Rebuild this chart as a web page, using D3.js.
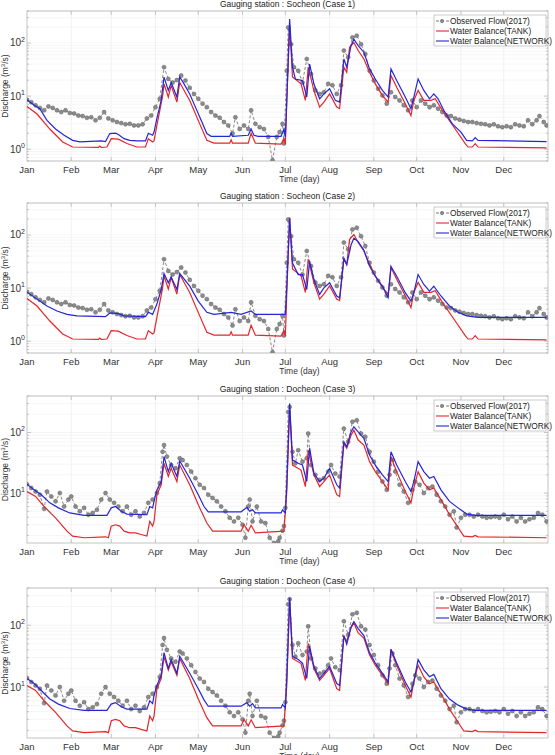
<!DOCTYPE html>
<html>
<head>
<meta charset="utf-8">
<script src="https://cdn.jsdelivr.net/npm/d3@7"></script>
<style>
  body { margin: 0; background: #fff; }
  svg { display: block; font-family: "Liberation Sans", Arial, sans-serif; }
</style>
</head>
<body>
<div id="chart"></div>
<script>
// month axis
const monthStarts = [0, 31, 59, 90, 120, 151, 181, 212, 243, 273, 304, 334];
const monthLabels = ["Jan", "Feb", "Mar", "Apr", "May", "Jun", "Jul", "Aug", "Sep", "Oct", "Nov", "Dec"];

// observed flow (day of year, m3/s)
const obsSocheon = [[0,8.5],[3,7.7],[6,6.7],[9,6.0],[12,5.4],[15,6.4],[18,6.0],[21,5.4],[24,5.0],[27,5.4],[30,4.8],[33,4.7],[36,4.3],[39,4.2],[42,3.9],[45,4.0],[48,3.5],[51,3.9],[54,5.0],[57,3.8],[60,3.5],[63,3.25],[66,3.1],[69,2.95],[72,3.0],[75,2.8],[78,2.8],[81,2.95],[84,3.8],[87,4.3],[90,6.2],[93,8.9],[96,35],[99,21],[102,18],[105,20],[108,24.5],[111,19.6],[114,14.3],[117,11],[120,8.9],[123,7.2],[126,6.2],[129,5.0],[132,4.3],[135,3.9],[138,3.25],[141,2.8],[144,1.97],[146,4.0],[149,2.4],[152,2.8],[155,2.4],[157,5.4],[160,3.0],[163,2.6],[166,2.4],[169,1.7],[172,0.62],[175,1.7],[177,2.1],[179,3.0],[180,1.28],[182,30],[183,196],[185,95],[187,35],[190,30],[193,18],[196,50],[199,26],[202,12.8],[205,11],[208,11.8],[211,17],[214,16],[217,11],[220,16],[222,72],[225,54],[228,127],[231,137],[234,95],[237,62],[240,30],[243,19.6],[246,13.7],[249,10.3],[252,7.2],[255,11.8],[258,9.6],[261,8.3],[264,6.7],[267,5.4],[270,8.3],[273,6.2],[276,8.3],[279,7.2],[282,6.2],[285,6.7],[288,5.8],[291,5.0],[294,4.3],[297,4.2],[300,3.8],[303,3.6],[306,3.4],[309,3.25],[312,3.25],[315,3.1],[318,3.0],[321,2.95],[324,2.8],[327,2.95],[330,2.7],[333,2.6],[336,2.7],[339,2.6],[342,2.95],[345,2.8],[348,2.7],[351,3.5],[354,2.95],[357,3.5],[359,4.2],[362,3.25],[364,2.8]];

const obsDocheon = [[0,14],[3,12.1],[6,10.6],[9,9.4],[12,5.5],[14,10.6],[17,8.8],[20,7.3],[23,10],[26,6.0],[29,7.8],[31,8.8],[34,6.0],[37,5.0],[40,5.7],[43,4.4],[46,4.7],[49,5.3],[52,7.8],[55,10],[58,7.8],[61,6.9],[64,6.0],[67,5.0],[70,6.0],[73,4.4],[76,5.0],[79,4.1],[82,4.7],[85,6.9],[88,7.8],[91,10],[93,14.6],[95,48],[96,62],[98,40],[101,29],[104,25.7],[107,37.5],[109,35],[112,29],[115,22.6],[118,17.6],[121,13.7],[124,12.1],[127,9.4],[130,8.3],[133,7.3],[136,6.0],[139,5.0],[142,3.9],[145,3.4],[148,3.9],[151,3.0],[153,1.83],[155,6.0],[156,7.8],[158,3.4],[161,6.0],[164,3.4],[167,3.2],[170,1.83],[173,1.5],[176,1.6],[177,1.83],[179,2.4],[180,2.85],[181,5.7],[183,218],[184,264],[186,48],[188,31],[190,51],[193,33],[196,37.5],[197,96],[199,29],[202,20],[205,16.5],[208,17.6],[211,22.6],[213,29],[216,21],[219,18.8],[222,116],[225,70],[228,150],[231,159],[234,96],[237,85],[240,48],[243,33],[246,22.6],[249,15.5],[252,11.3],[254,20],[256,35],[258,22.6],[261,13.7],[264,10.6],[267,6.9],[270,11.3],[272,15.5],[275,13.7],[278,10],[281,12.1],[284,12.8],[287,9.4],[290,7.3],[293,6.0],[296,4.4],[299,5.0],[301,2.7],[304,3.9],[307,4.4],[310,4.4],[313,4.1],[316,4.4],[319,4.1],[322,3.9],[325,4.0],[328,4.1],[331,3.9],[334,4.4],[337,3.7],[340,4.1],[343,3.4],[346,3.9],[349,3.4],[352,3.7],[355,3.9],[358,4.7],[361,4.4],[364,3.4]];

// Water Balance (TANK)
const tankSocheon = [[0,6.4],[7,4.6],[16,2.4],[25,1.37],[32,1.1],[50,1.08],[51,1.15],[52,1.08],[56,1.1],[59,1.58],[64,1.55],[70,1.28],[77,1.1],[83,1.1],[85,1.58],[88,1.37],[89,1.45],[91,2.8],[95,10],[96,17],[99,9.6],[101,15.8],[105,7.7],[107,18],[114,8.3],[121,3.0],[126,1.47],[131,1.3],[142,1.3],[143,1.5],[144,1.3],[155,1.3],[157,2.0],[160,1.3],[178,1.25],[180,1.6],[181,1.25],[182,8],[184,213],[186,23],[192,17],[195,8.3],[197,35],[201,12.7],[205,6.2],[208,7.7],[212,11],[217,6.2],[219,5.8],[222,35],[224,28],[226,83],[229,102],[232,72],[236,50],[240,28],[244,17],[249,10.3],[253,7.7],[255,24.5],[259,14.7],[265,7.2],[269,4.3],[271,8.3],[274,12.8],[278,8.3],[283,8.3],[286,8.9],[291,5.4],[300,2.4],[307,1.27],[309,1.1],[312,1.1],[314,1.27],[316,1.1],[364,1.06]];

const tankDocheon = [[0,10.6],[6,8.8],[12,6.0],[20,3.9],[28,2.35],[32,1.95],[40,1.83],[55,1.9],[57,1.83],[59,2.85],[62,3.0],[65,2.85],[68,2.35],[72,2.2],[76,2.2],[80,2.07],[84,1.95],[86,3.4],[88,2.85],[89,3.4],[91,9.4],[94,13.7],[96,31],[99,18.8],[101,25.7],[105,15.5],[107,29],[114,13.7],[120,6.4],[126,3.2],[130,2.35],[150,2.35],[152,3.0],[155,2.35],[157,2.95],[160,2.2],[180,2.35],[182,10.6],[184,264],[186,29],[192,24],[195,12.8],[197,51],[201,20],[205,12.8],[208,15.5],[212,20],[217,9.4],[219,8.8],[222,66],[224,55],[227,90],[229,109],[232,75],[236,62],[240,33],[244,22.6],[249,15.5],[253,11.3],[255,40],[259,22.6],[265,10.6],[269,6.9],[271,12.1],[274,22.6],[278,14.6],[282,11.3],[285,12.1],[290,7.8],[296,4.4],[302,2.7],[306,1.95],[312,1.9],[314,2.0],[316,1.9],[364,1.83]];

// Water Balance (NETWORK), one per case
const networkCase1 = [[0,8.5],[5,6.7],[9,5.8],[14,3.5],[20,2.4],[26,1.83],[32,1.47],[37,1.37],[52,1.43],[55,1.39],[58,1.97],[62,2.0],[64,1.9],[68,1.58],[72,1.47],[77,1.43],[83,1.43],[85,2.0],[88,1.83],[89,2.1],[91,3.8],[94,8.3],[96,22.7],[99,12.8],[101,18],[105,9.6],[107,23],[110,17],[114,11],[118,6.2],[122,3.5],[126,1.97],[129,1.75],[142,1.75],[143,2.0],[144,1.75],[155,1.83],[157,2.4],[159,1.83],[162,1.75],[178,1.75],[180,2.4],[181,1.7],[182,8.3],[184,282],[186,35],[188,21],[193,19.6],[196,9.6],[198,40],[201,17],[205,8.9],[208,11],[212,13.7],[216,8.3],[219,7.7],[222,50],[224,35],[227,89],[229,118],[232,89],[236,67],[240,32.5],[244,21],[249,12.8],[253,9.6],[255,32.5],[259,19.6],[265,9.6],[269,5.8],[271,9.6],[274,21],[278,12.8],[282,8.9],[285,11],[288,8.9],[292,5.4],[298,3.0],[304,2.1],[308,1.47],[312,1.43],[314,1.65],[316,1.47],[364,1.39]];

const networkCase2 = [[0,8.4],[7,6.2],[14,4.6],[21,3.7],[28,3.2],[35,3.0],[55,2.9],[58,3.4],[64,3.3],[68,3.0],[83,2.9],[85,3.5],[88,3.2],[91,5.0],[94,9.4],[96,18.8],[99,12.6],[101,16.2],[105,9.4],[107,18.8],[114,10.9],[120,5.7],[126,3.5],[131,3.2],[143,3.5],[150,3.2],[157,3.7],[160,3.2],[181,3.2],[182,10.9],[184,204],[186,29.6],[190,18],[193,18],[196,9.4],[198,32],[201,14.5],[205,7.6],[208,10.1],[212,12.6],[217,7.1],[219,6.6],[222,36.7],[224,27.6],[227,65],[229,87],[232,75],[236,52],[240,25.7],[244,16.7],[249,10.9],[253,6.6],[255,25.7],[259,16.7],[265,8.2],[269,5.7],[271,8.2],[274,18],[278,11.7],[282,8.8],[285,10.9],[290,7.1],[296,4.6],[302,3.5],[308,3.0],[316,2.8],[340,2.8],[364,2.8]];

const networkCase3 = [[0,14],[5,11.3],[10,9.4],[16,6.9],[22,5.7],[30,4.7],[40,4.3],[56,4.3],[59,5.7],[62,6.0],[66,5.0],[70,4.5],[84,4.4],[86,6.0],[88,5.7],[89,7.3],[91,11.3],[94,15.5],[96,40],[99,22.6],[101,31],[105,18.8],[107,34],[114,17.6],[120,9.4],[124,6.0],[127,4.9],[150,4.9],[154,5.8],[156,5.0],[158,5.3],[160,4.7],[178,4.7],[179,5.3],[181,4.7],[182,13.7],[184,300],[186,35],[190,31],[193,29],[196,15.5],[198,55],[201,21],[205,15.5],[208,17.6],[212,25.7],[217,13.7],[219,12.1],[222,70],[224,58],[227,102],[229,124],[232,102],[236,80],[240,42],[244,29],[249,20],[253,15.5],[255,48],[259,29],[265,15.5],[269,10.6],[271,15.5],[274,33],[278,22.6],[282,17.6],[285,18.8],[290,11.3],[296,7.3],[302,5.7],[308,4.5],[314,4.3],[364,4.3]];

const networkCase4 = [[0,13.8],[5,11.4],[10,8.8],[16,6.4],[22,5.3],[30,4.5],[40,4.2],[56,4.2],[59,5.3],[62,5.6],[66,4.8],[70,4.4],[84,4.4],[86,6.0],[88,5.4],[89,7.3],[91,10.6],[94,15.6],[96,36],[99,20],[101,28],[105,16.7],[107,31.6],[114,16.7],[120,9.4],[124,6.2],[127,4.9],[150,4.9],[154,5.6],[156,4.9],[158,5.4],[160,4.6],[178,4.6],[179,5.2],[181,4.6],[182,14.7],[184,278],[186,31.6],[190,27.8],[193,24.5],[196,13.8],[198,46],[201,21.5],[205,13.8],[208,16.7],[212,21.5],[217,11.4],[219,10.6],[222,68],[224,49],[227,94],[229,114],[232,88],[236,68],[240,36],[244,24.5],[249,16.7],[253,12.1],[255,41],[259,24.5],[265,12.1],[269,8.3],[271,12.1],[274,27.8],[278,19],[282,14.7],[285,16],[290,9.4],[296,6.4],[302,5.1],[308,4.4],[314,4.2],[364,4.2]];

const legendLabels = ["Observed Flow(2017)", "Water Balance(TANK)", "Water Balance(NETWORK)"];

const width = 555;
const height = 755;
const red = "#e3262b";
const blue = "#2626d4";
const gray = "#7a7a7a";

const svg = d3.select("#chart")
  .append("svg")
  .attr("width", width)
  .attr("height", height);

const x = d3.scaleLinear().domain([0, 365]).range([27, 548]);

const panels = [
  { title: "Gauging station : Socheon (Case 1)", top: 11, bottom: 161, dom: [0.6, 400], obs: obsSocheon, tank: tankSocheon, net: networkCase1 },
  { title: "Gauging station : Socheon (Case 2)", top: 203, bottom: 353, dom: [0.6, 400], obs: obsSocheon, tank: tankSocheon, net: networkCase2 },
  { title: "Gauging station : Docheon (Case 3)", top: 396, bottom: 543, dom: [1.5, 400], obs: obsDocheon, tank: tankDocheon, net: networkCase3 },
  { title: "Gauging station : Docheon (Case 4)", top: 588, bottom: 738, dom: [1.5, 400], obs: obsDocheon, tank: tankDocheon, net: networkCase4 }
];

panels.forEach((p, i) => {
  const g = svg.append("g");
  const y = d3.scaleLog().domain(p.dom).range([p.bottom, p.top]);
  const x0 = x.range()[0], x1 = x.range()[1];

  // minor / major values inside the domain
  const minor = [];
  for (let e = -1; e <= 2; e++) {
    for (let k = 1; k <= 9; k++) {
      const v = k * Math.pow(10, e);
      if (v >= p.dom[0] && v <= p.dom[1]) minor.push(v);
    }
  }
  const major = minor.filter(v => Math.abs(Math.log10(v) - Math.round(Math.log10(v))) < 1e-9);

  // faint grid
  g.selectAll(".vg").data(monthStarts.slice(1)).join("line")
    .attr("x1", d => x(d)).attr("x2", d => x(d))
    .attr("y1", p.top).attr("y2", p.bottom)
    .attr("stroke", "#eeeeee").attr("stroke-width", 0.8);
  g.selectAll(".hg").data(minor).join("line")
    .attr("x1", x0).attr("x2", x1)
    .attr("y1", d => y(d)).attr("y2", d => y(d))
    .attr("stroke", "#f3f3f3").attr("stroke-width", 0.8);

  // tick marks (inside)
  g.selectAll(".tk").data(minor).join("line")
    .attr("x1", x0).attr("x2", d => x0 + (major.includes(d) ? 4 : 2))
    .attr("y1", d => y(d)).attr("y2", d => y(d))
    .attr("stroke", "#b0b0b0").attr("stroke-width", 0.7);
  g.selectAll(".tkr").data(minor).join("line")
    .attr("x1", x1).attr("x2", d => x1 - (major.includes(d) ? 4 : 2))
    .attr("y1", d => y(d)).attr("y2", d => y(d))
    .attr("stroke", "#b0b0b0").attr("stroke-width", 0.7);
  g.selectAll(".tkx").data(monthStarts.slice(1)).join("line")
    .attr("x1", d => x(d)).attr("x2", d => x(d))
    .attr("y1", p.bottom).attr("y2", p.bottom - 4)
    .attr("stroke", "#b0b0b0").attr("stroke-width", 0.7);
  g.selectAll(".tkxt").data(monthStarts.slice(1)).join("line")
    .attr("x1", d => x(d)).attr("x2", d => x(d))
    .attr("y1", p.top).attr("y2", p.top + 4)
    .attr("stroke", "#b0b0b0").attr("stroke-width", 0.7);

  // frame
  g.append("rect")
    .attr("x", x0).attr("y", p.top)
    .attr("width", x1 - x0).attr("height", p.bottom - p.top)
    .attr("fill", "none").attr("stroke", "#b5b5b5").attr("stroke-width", 0.8);

  // y tick labels 10^n
  major.forEach(v => {
    const t = g.append("text")
      .attr("x", x0 - 2).attr("y", y(v) + 3.5)
      .attr("text-anchor", "end")
      .attr("font-size", 10).attr("fill", "#333")
      .text("10");
    t.append("tspan").attr("dy", -4.5).attr("font-size", 7)
      .text(String(Math.round(Math.log10(v))));
  });

  // month labels
  g.selectAll(".ml").data(monthStarts).join("text")
    .attr("x", d => x(d)).attr("y", p.bottom + 12)
    .attr("text-anchor", "middle")
    .attr("font-size", 9.5).attr("fill", "#333")
    .text((d, j) => monthLabels[j]);

  // axis titles (the last one runs off the bottom edge, as in the source figure)
  g.append("text")
    .attr("x", (x0 + x1) / 2 + 12).attr("y", p.bottom + 21)
    .attr("text-anchor", "middle").attr("font-size", 8.5).attr("fill", "#333")
    .text("Time (day)");
  const yl = g.append("text")
    .attr("transform", `translate(8,${(p.top + p.bottom) / 2}) rotate(-90)`)
    .attr("text-anchor", "middle").attr("font-size", 8.5).attr("fill", "#333")
    .text("Discharge (m");
  yl.append("tspan").attr("dy", -3).attr("font-size", 6).text("3");
  yl.append("tspan").attr("dy", 3).text("/s)");

  g.append("text")
    .attr("x", (x0 + x1) / 2).attr("y", p.top - 4)
    .attr("text-anchor", "middle").attr("font-size", 8.5).attr("fill", "#222")
    .text(p.title);

  // series
  const clipId = "clip" + i;
  svg.append("clipPath").attr("id", clipId).append("rect")
    .attr("x", x0).attr("y", p.top).attr("width", x1 - x0).attr("height", p.bottom - p.top);
  const plot = g.append("g").attr("clip-path", `url(#${clipId})`);
  const line = d3.line().x(d => x(d[0])).y(d => y(d[1]));

  plot.append("path").datum(p.obs)
    .attr("d", line).attr("fill", "none")
    .attr("stroke", gray).attr("stroke-width", 0.9).attr("stroke-dasharray", "3,2");
  plot.selectAll(".ob").data(p.obs).join("circle")
    .attr("cx", d => x(d[0])).attr("cy", d => y(d[1])).attr("r", 2)
    .attr("fill", "#8c8c8c").attr("stroke", "#5e5e5e").attr("stroke-width", 0.5);
  plot.append("path").datum(p.tank)
    .attr("d", line).attr("fill", "none")
    .attr("stroke", red).attr("stroke-width", 1.2);
  plot.append("path").datum(p.net)
    .attr("d", line).attr("fill", "none")
    .attr("stroke", blue).attr("stroke-width", 1.2);

  // legend
  const lx = 434, ly = p.top + 4;
  const lg = g.append("g");
  lg.append("rect").attr("x", lx).attr("y", ly).attr("width", 112).attr("height", 31)
    .attr("fill", "#fff").attr("stroke", "#b5b5b5").attr("stroke-width", 0.7);
  const cols = [gray, red, blue];
  legendLabels.forEach((lab, j) => {
    const yy = ly + 6 + j * 10;
    lg.append("line").attr("x1", lx + 2).attr("x2", lx + 15).attr("y1", yy).attr("y2", yy)
      .attr("stroke", cols[j]).attr("stroke-width", 1.1)
      .attr("stroke-dasharray", j === 0 ? "3,2" : null);
    if (j === 0) {
      lg.append("circle").attr("cx", lx + 8).attr("cy", yy).attr("r", 1.7)
        .attr("fill", "#8c8c8c").attr("stroke", "#5e5e5e").attr("stroke-width", 0.5);
    }
    lg.append("text").attr("x", lx + 16).attr("y", yy + 3)
      .attr("font-size", 8.3).attr("fill", "#222").text(lab);
  });
});
</script>
</body>
</html>
